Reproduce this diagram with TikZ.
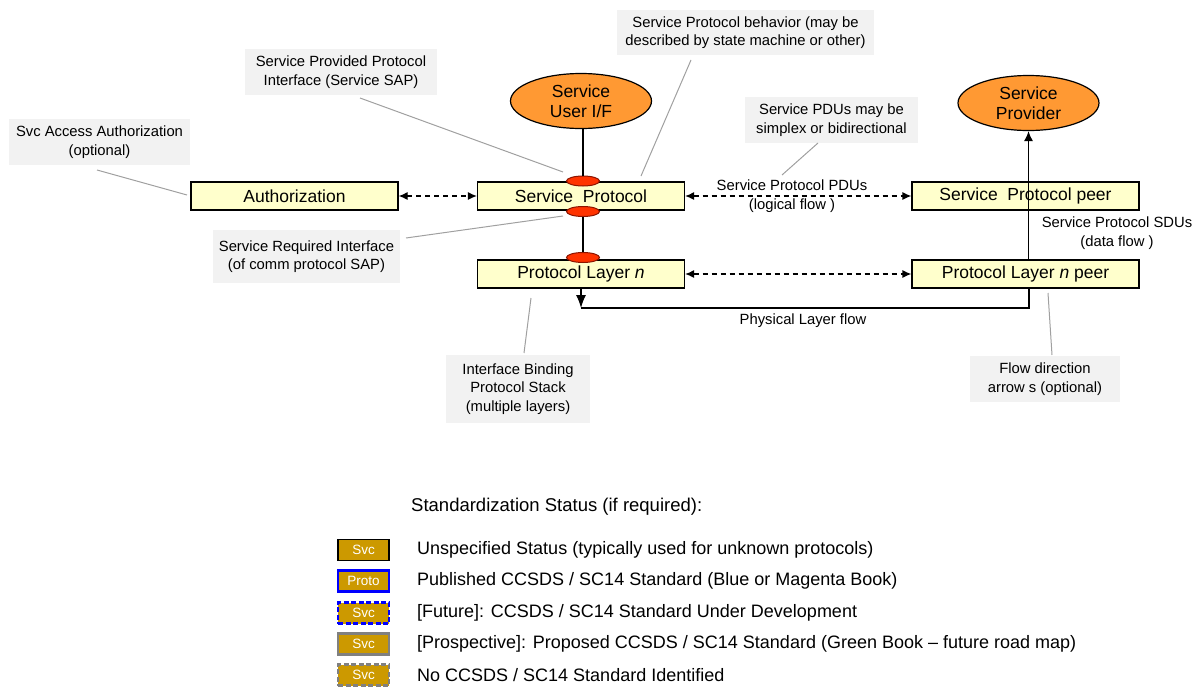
\documentclass[tikz,border=0pt]{standalone}
\usepackage{fontspec}
\setmainfont{Liberation Sans}
\usepackage{tikz}
\usetikzlibrary{shapes.geometric,arrows.meta}
\definecolor{boxyellow}{RGB}{255,255,204}
\definecolor{ifcorange}{RGB}{255,153,51}
\definecolor{sapred}{RGB}{255,51,0}
\definecolor{sapedge}{RGB}{140,20,0}
\definecolor{notegray}{RGB}{242,242,242}
\definecolor{leadgray}{RGB}{160,160,160}
\definecolor{svcgold}{RGB}{204,153,0}

\begin{document}
\begin{tikzpicture}[x=1pt,y=-1pt]
                \tikzstyle{blk}=[draw,fill=boxyellow,line width=1.2pt,inner sep=0pt,minimum height=28pt,font=\fontsize{17.5}{20}\selectfont]
                \tikzstyle{ifc}=[ellipse,draw,fill=ifcorange,line width=1.2pt,inner sep=0pt,minimum width=141pt,minimum height=55pt,align=center,font=\fontsize{17.5}{20}\selectfont]
                \tikzstyle{sap}=[ellipse,draw=sapedge,fill=sapred,line width=1pt,inner sep=0pt,minimum width=33pt,minimum height=10pt]
                \tikzstyle{note}=[fill=notegray,inner sep=0pt,align=center,font=\fontsize{14.8}{18.5}\selectfont]
                \tikzstyle{flowlbl}=[inner sep=0pt,align=center,font=\fontsize{14.8}{18.5}\selectfont]
                \tikzstyle{lead}=[leadgray,line width=1pt]
                \tikzstyle{pdu}=[line width=1.2pt,dash pattern=on 5pt off 4pt,{Latex[length=9pt,width=8pt]}-{Latex[length=9pt,width=8pt]}]
                \tikzstyle{swatch}=[fill=svcgold,text=white,inner sep=0pt,minimum width=51pt,minimum height=21pt,font=\fontsize{13.5}{15}\selectfont]
                \tikzstyle{legtxt}=[anchor=west,inner sep=0pt,font=\fontsize{18}{21}\selectfont]
                \newcommand\callout[6]{\node[note,minimum width=#3pt,minimum height=#4pt] at (#1,#2) (#5) {#6};}
                \useasboundingbox (0,0) rectangle (1192,691);
                % blocks
                \node[blk,minimum width=207pt] at (294.5,196) (auth) {Authorization};
                \node[blk,minimum width=207pt] at (581,196) (sp) {Service\ \ Protocol};
                \node[blk,minimum width=207pt] at (581,274) (pl) {Protocol Layer \textit{n}};
                \node[blk,minimum width=227pt] at (1025.5,196) (sppeer) {Service\ \ Protocol peer};
                \node[blk,minimum width=227pt] at (1025.5,274) (plpeer) {Protocol Layer \textit{n} peer};
                \node[ifc] at (581,101) (user) {Service\\User I/F};
                \node[ifc] at (1028.5,103) (prov) {Service\\Provider};
                \node[sap] at (583,181) (sap1) {};
                \node[sap] at (583,211.5) (sap2) {};
                \node[sap] at (583,257.5) (sap3) {};
                % connectors
                \draw[line width=1.2pt] (user.south -| sap1) -- (sap1);
                \draw[line width=1.2pt] (sap2) -- (sap3);
                \draw[pdu] (auth) -- (sp);
                \draw[pdu] (sp) -- (sppeer);
                \draw[pdu] (pl) -- (plpeer);
                \draw[line width=1.2pt,-{Latex[length=10pt,width=9pt]}] (plpeer.north -| prov) -- (prov);
                \coordinate (phys) at (581,308);
                \draw[line width=1.2pt,-{Latex[length=13pt,width=10pt]}] (pl.south) -- (phys);
                \draw[line width=1.2pt] (phys) -| (1029,288);
                % flow labels
                \node[flowlbl] at (792,196) (pdulbl) {Service Protocol PDUs\\(logical flow )};
                \node[flowlbl] at (1117,233) (sdulbl) {Service Protocol SDUs\\(data flow )};
                \node[flowlbl] at (803,321) (physlbl) {Physical Layer flow};
                % callouts
                \callout{99.5}{142}{181}{46}{acc}{Svc Access Authorization\\(optional)}
                \callout{341}{72}{192}{46}{prv}{Service Provided Protocol\\Interface (Service SAP)}
                \callout{745.5}{32.5}{257}{45}{beh}{Service Protocol behavior (may be\\described by state machine or other)}
                \callout{831.5}{120}{173}{46}{simp}{Service PDUs may be\\simplex or bidirectional}
                \callout{306.5}{256.5}{187}{53}{req}{Service Required Interface\\(of comm protocol SAP)}
                \callout{518}{389}{144}{68}{bind}{Interface Binding\\Protocol Stack\\(multiple layers)}
                \callout{1045}{379}{150}{46}{dir}{Flow direction\\arrow s (optional)}
                \coordinate (acc-e) at (187,195);
                \coordinate (prv-e) at (563,172);
                \coordinate (beh-e) at (641,176);
                \coordinate (simp-e) at (782,175);
                \coordinate (req-e) at (563,216);
                \coordinate (bind-e) at (531,298);
                \coordinate (dir-e) at (1048,293);
                \draw[lead] (97,170) -- (acc-e);
                \draw[lead] (360,98) -- (prv-e);
                \draw[lead] (691,60) -- (beh-e);
                \draw[lead] (818,143) -- (simp-e);
                \draw[lead] (406,238) -- (req-e);
                \draw[lead] (524,353) -- (bind-e);
                \draw[lead] (1052,355) -- (dir-e);
                % legend
                \node[legtxt,font=\fontsize{18.5}{21}\selectfont] at (411,507) (legtitle) {Standardization Status (if required):};
                \node[swatch,draw=black,line width=1.2pt] at (363.5,550) (s1) {Svc};
                \node[swatch,draw=blue,line width=2.6pt] at (363.5,581) (s2) {Proto};
                \node[swatch,draw=blue,line width=2.6pt,dash pattern=on 5pt off 2.5pt] at (363.5,613) (s3) {Svc};
                \node[swatch,draw=gray,line width=2.6pt] at (363.5,644) (s4) {Svc};
                \node[swatch,draw=gray,line width=2.6pt,dash pattern=on 5pt off 2.5pt] at (363.5,675) (s5) {Svc};
                \node[legtxt] at (417,550) (t1) {Unspecified Status (typically used for unknown protocols)};
                \node[legtxt] at (417,581) (t2) {Published CCSDS / SC14 Standard (Blue or Magenta Book)};
                \node[legtxt] at (417,613) (t3) {[Future]: CCSDS / SC14 Standard Under Development};
                \node[legtxt] at (417,644) (t4) {[Prospective]: Proposed CCSDS / SC14 Standard (Green Book -- future road map)};
                \node[legtxt] at (417,675) (t5) {No CCSDS / SC14 Standard Identified};
\end{tikzpicture}
\end{document}
